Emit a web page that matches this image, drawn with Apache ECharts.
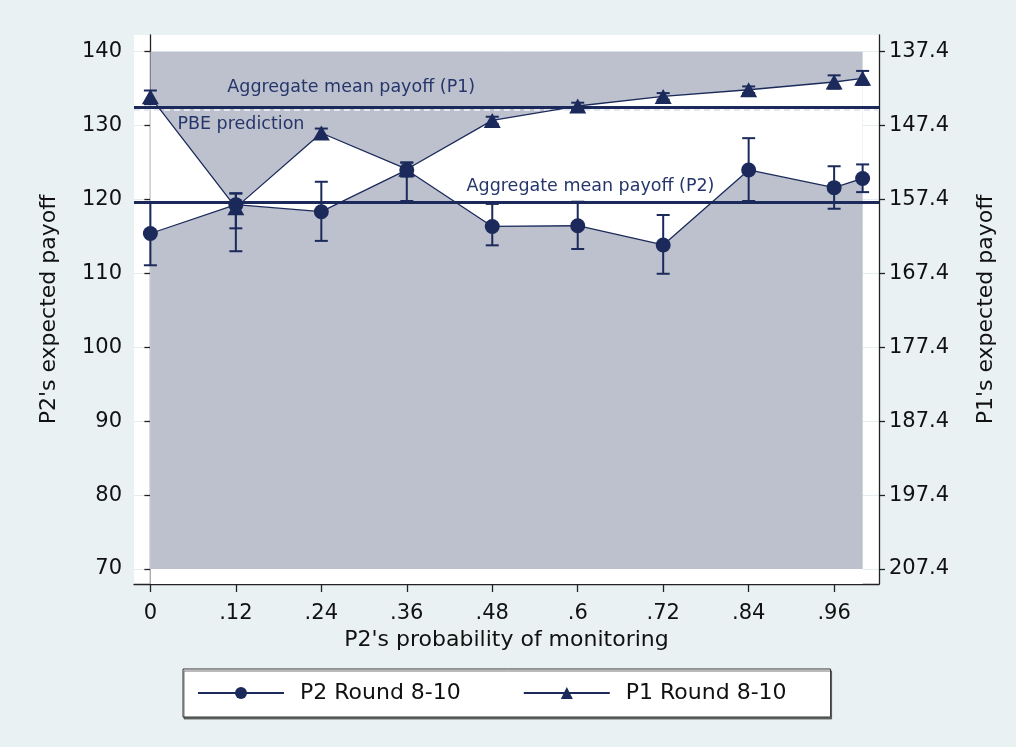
<!DOCTYPE html>
<html>
<head>
<meta charset="utf-8">
<title>Expected payoffs by monitoring probability</title>
<script src="https://cdn.jsdelivr.net/npm/echarts@6/dist/echarts.min.js"></script>
<style>
  html, body { margin: 0; padding: 0; background: #e9f1f3; }
  #chart { width: 1016px; height: 747px; }
</style>
</head>
<body>
<div id="chart"></div>
<script>
// P1's axis mirrors P2's axis: p1 = OFFSET - p2
const OFFSET = 277.4;

// P2's probability of monitoring
const xVals = [0, 0.12, 0.24, 0.36, 0.48, 0.6, 0.72, 0.84, 0.96, 1];

// P2 Round 8-10: mean and confidence bounds (P2's expected payoff)
const p2Mean = [115.4, 119.3, 118.35, 124.0, 116.35, 116.45, 113.85, 124.0, 121.6, 122.85];
const p2Lo   = [111.1, 113.0, 114.4, 119.8, 113.8, 113.3, 109.95, 119.8, 118.75, 121.0];
const p2Hi   = [119.6, 120.8, 122.4, 125.0, 119.4, 119.7, 117.9, 128.3, 124.5, 124.75];

// P1 Round 8-10: mean and confidence bounds (P1's expected payoff)
const p1Mean = [143.5, 158.5, 148.4, 153.3, 146.7, 144.75, 143.45, 142.55, 141.5, 141.0];
const p1Lo   = [142.65, 156.55, 147.8, 152.4, 146.2, 144.3, 143.0, 142.1, 140.6, 140.0];
const p1Hi   = [144.5, 161.3, 149.1, 154.3, 147.2, 145.2, 143.9, 143.0, 142.4, 141.9];

// reference levels
const p2Aggregate = 119.6;   // P2 units
const p1Aggregate = 144.9;   // P1 units
const p1Pbe = 145.3;         // P1 units

// tick labels
const xTicks = [0, 0.12, 0.24, 0.36, 0.48, 0.6, 0.72, 0.84, 0.96];
const leftTicks = [70, 80, 90, 100, 110, 120, 130, 140];
const rightTicks = [137.4, 147.4, 157.4, 167.4, 177.4, 187.4, 197.4, 207.4];

// shaded band (P2 units)
const band = [[0, 70, 1, 140]];

// text notes placed in data units (P2 axis)
const noteText = ['Aggregate mean payoff (P1)', 'PBE prediction', 'Aggregate mean payoff (P2)'];
const noteX = [0.108, 0.038, 0.444];
const noteY = [135.1, 130.2, 121.7];

const NAVY = '#1b2a5a';
const FONT = 'DejaVu Sans';
const yMin = 67.97, yMax = 142.26;

const chart = echarts.init(document.getElementById('chart'), null, { renderer: 'canvas' });

function errorBars(params, api) {
  const x = api.value(0);
  const a = api.coord([x, api.value(1)]);
  const b = api.coord([x, api.value(2)]);
  const h = 6.5;
  const st = { stroke: NAVY, lineWidth: 2 };
  return {
    type: 'group',
    children: [
      { type: 'line', shape: { x1: a[0], y1: a[1], x2: b[0], y2: b[1] }, style: st },
      { type: 'line', shape: { x1: a[0] - h, y1: a[1], x2: a[0] + h, y2: a[1] }, style: st },
      { type: 'line', shape: { x1: b[0] - h, y1: b[1], x2: b[0] + h, y2: b[1] }, style: st }
    ]
  };
}

const option = {
  animation: false,
  backgroundColor: '#e9f1f3',
  grid: { left: 134, right: 137, top: 35, bottom: 163, show: true, backgroundColor: '#ffffff', borderWidth: 0 },
  legend: {
    data: ['P2 Round 8-10', 'P1 Round 8-10'],
    left: 183, top: 669,
    orient: 'horizontal',
    selectedMode: false,
    itemWidth: 86, itemHeight: 15, itemGap: 62,
    padding: [13, 44, 13, 14],
    backgroundColor: '#ffffff',
    borderColor: '#333', borderWidth: 1,
    shadowColor: 'rgba(60,60,60,0.7)', shadowOffsetX: 1, shadowOffsetY: 2, shadowBlur: 0,
    textStyle: { fontFamily: FONT, fontSize: 22, color: '#111', padding: [0, 0, 0, 11] }
  },
  xAxis: {
    type: 'value', min: -0.023, max: 1.023,
    name: "P2's probability of monitoring", nameLocation: 'middle', nameGap: 45,
    nameTextStyle: { fontFamily: FONT, fontSize: 22, color: '#111' },
    axisLine: { show: true, onZero: false, lineStyle: { color: '#222', width: 1.3 } },
    axisTick: { show: true, length: 8, customValues: xTicks, lineStyle: { color: '#222', width: 1.3 } },
    axisLabel: {
      customValues: xTicks, margin: 19,
      fontFamily: FONT, fontSize: 21, color: '#111',
      formatter: v => (v === 0 ? '0' : String(+v.toFixed(2)).replace(/^0/, ''))
    },
    splitLine: { show: false }
  },
  yAxis: [
    {
      type: 'value', min: yMin, max: yMax,
      name: "P2's expected payoff", nameLocation: 'middle', nameGap: 74, nameRotate: 90,
      nameTextStyle: { fontFamily: FONT, fontSize: 22, color: '#111' },
      axisLine: { show: true, lineStyle: { color: '#222', width: 1.3 } },
      axisTick: { show: true, length: 6, customValues: leftTicks, lineStyle: { color: '#222', width: 1.3 } },
      axisLabel: { customValues: leftTicks, margin: 12, fontFamily: FONT, fontSize: 21, color: '#111' },
      splitLine: { show: true, lineStyle: { color: '#e6edf0', width: 1 } }
    },
    {
      type: 'value', inverse: true, min: OFFSET - yMax, max: OFFSET - yMin, position: 'right',
      name: "P1's expected payoff", nameLocation: 'middle', nameGap: 96, nameRotate: 90,
      nameTextStyle: { fontFamily: FONT, fontSize: 22, color: '#111' },
      axisLine: { show: true, lineStyle: { color: '#222', width: 1.3 } },
      axisTick: { show: true, length: 6, customValues: rightTicks, lineStyle: { color: '#222', width: 1.3 } },
      axisLabel: { customValues: rightTicks, margin: 10, fontFamily: FONT, fontSize: 21, color: '#111',
        formatter: v => v.toFixed(1) },
      splitLine: { show: false }
    }
  ],
  series: [
    {
      // gray band
      type: 'custom', name: 'band', z: 1, silent: true,
      xAxisIndex: 0, yAxisIndex: 0,
      data: band,
      encode: { x: [0, 2], y: [1, 3] },
      renderItem: (params, api) => {
        const c0 = api.coord([api.value(0), api.value(1)]);
        const c1 = api.coord([api.value(2), api.value(3)]);
        return { type: 'rect', shape: { x: c0[0], y: c1[1], width: c1[0] - c0[0], height: c0[1] - c1[1] },
                 style: { fill: '#bcc1cd' } };
      }
    },
    {
      // white fill below the P1 curve
      type: 'line', name: 'p1fill', z: 2, silent: true, yAxisIndex: 1,
      data: xVals.map((x, i) => [x, p1Mean[i]]),
      showSymbol: false, symbol: 'none',
      lineStyle: { width: 0, opacity: 0 },
      areaStyle: { color: '#ffffff', opacity: 1, origin: 'end' }
    },
    {
      // gray fill below the P2 curve
      type: 'line', name: 'p2fill', z: 3, silent: true, yAxisIndex: 0,
      data: xVals.map((x, i) => [x, p2Mean[i]]),
      showSymbol: false, symbol: 'none',
      lineStyle: { width: 0, opacity: 0 },
      areaStyle: { color: '#bcc1cd', opacity: 1, origin: 70 }
    },
    {
      // aggregate P2 line
      type: 'line', name: 'p2ref', z: 4, silent: true, yAxisIndex: 0, data: [],
      markLine: {
        silent: true, symbol: 'none', label: { show: false }, animation: false,
        data: [{ yAxis: p2Aggregate }],
        lineStyle: { color: NAVY, width: 3, type: 'solid' }
      }
    },
    {
      // PBE prediction and aggregate P1 line
      type: 'line', name: 'p1ref', z: 4, silent: true, yAxisIndex: 1, data: [],
      markLine: {
        silent: true, symbol: 'none', label: { show: false }, animation: false,
        data: [
          { yAxis: p1Pbe, lineStyle: { color: '#e4e7ee', width: 2, type: [6, 4] } },
          { yAxis: p1Aggregate, lineStyle: { color: NAVY, width: 3, type: 'solid' } }
        ]
      }
    },
    {
      type: 'custom', name: 'p2err', z: 5, silent: true, yAxisIndex: 0,
      data: xVals.map((x, i) => [x, p2Lo[i], p2Hi[i]]),
      encode: { x: 0, y: [1, 2] },
      renderItem: errorBars
    },
    {
      type: 'custom', name: 'p1err', z: 5, silent: true, yAxisIndex: 1,
      data: xVals.map((x, i) => [x, p1Lo[i], p1Hi[i]]),
      encode: { x: 0, y: [1, 2] },
      renderItem: errorBars
    },
    {
      type: 'line', name: 'P2 Round 8-10', z: 6, yAxisIndex: 0,
      data: xVals.map((x, i) => [x, p2Mean[i]]),
      symbol: 'circle', symbolSize: 15, showSymbol: true,
      itemStyle: { color: NAVY },
      lineStyle: { color: NAVY, width: 1.3 }
    },
    {
      type: 'line', name: 'P1 Round 8-10', z: 7, yAxisIndex: 1,
      data: xVals.map((x, i) => [x, p1Mean[i]]),
      symbol: 'triangle', symbolSize: [17, 15], showSymbol: true,
      itemStyle: { color: NAVY },
      lineStyle: { color: NAVY, width: 1.3 }
    },
    {
      type: 'custom', name: 'notes', z: 8, silent: true, yAxisIndex: 0,
      data: noteX.map((x, i) => [x, noteY[i]]),
      encode: { x: 0, y: 1 },
      renderItem: (params, api) => {
        const p = api.coord([api.value(0), api.value(1)]);
        return { type: 'text', x: p[0], y: p[1],
                 style: { text: noteText[params.dataIndex], fill: '#26366a',
                          font: '17.5px "DejaVu Sans"', align: 'left', verticalAlign: 'middle' } };
      }
    }
  ]
};

chart.setOption(option);
</script>
</body>
</html>
